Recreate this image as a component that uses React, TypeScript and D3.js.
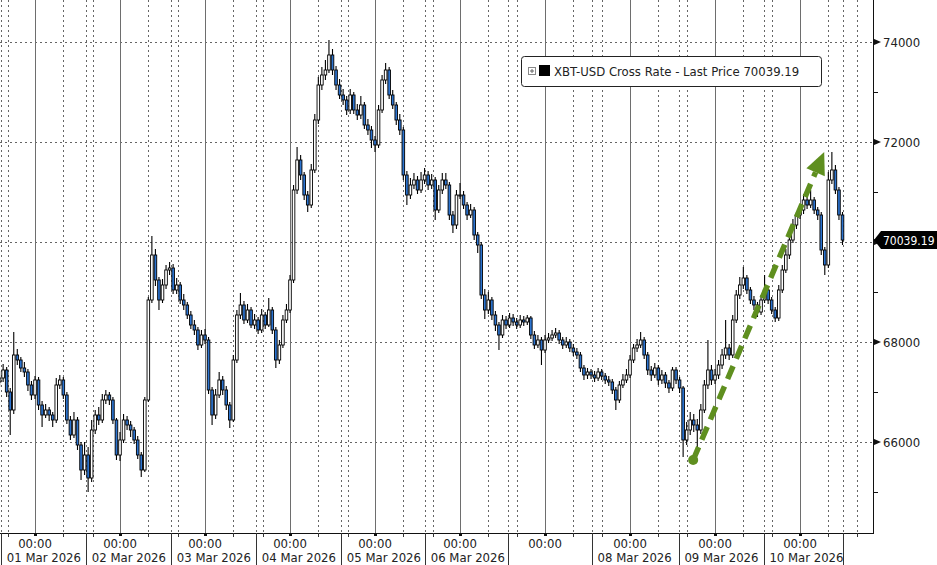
import React from 'react';
import * as d3 from 'd3';

const W = 937;
const H = 565;
const PLOT_R = 873;
const PLOT_B = 533;

const seriesLabel = 'XBT-USD Cross Rate - Last Price';
const lastPrice = 70039.19;

// hourly candles, first one at 28 Feb 2026 14:00 UTC
const firstBar = Date.UTC(2026, 1, 28, 14);
const firstOpen = 67200;

const closes = [
  67280, 67440, 67000, 66640, 67740, 67640, 67480, 67400, 67140, 66940,
  67240, 66740, 66540, 66640, 66540, 66440, 67140, 67240, 66940, 66440, 66140, 66440, 65940, 65440, 65740, 65280, 66240, 66540, 66440, 66840, 66940, 66840, 66440, 65740,
  66040, 66440, 66340, 66240, 66040, 65740, 65440, 66840, 68840, 69740, 69240, 68840, 69140, 69440, 69480, 69040, 69140, 68840, 68740, 68540, 68340, 68240, 67940, 68140,
  68040, 67040, 66540, 66940, 67240, 67040, 66740, 66440, 67640, 68540, 68740, 68440, 68640, 68340, 68440, 68240, 68540, 68340, 68640, 68240, 67640, 67940, 68440, 68640,
  69240, 71040, 71640, 71340, 70940, 70740, 71440, 72440, 73140, 73340, 73440, 73740, 73440, 73140, 72940, 72840, 72640, 72940, 72640, 72540, 72740, 72340, 72240, 72040,
  71940, 72640, 73240, 73440, 72940, 72740, 72440, 72240, 71340, 70940, 71140, 71240, 71040, 71240, 71340, 71140, 71240, 70640, 71040, 71240, 71140, 70540, 70340, 70940,
  70940, 70740, 70540, 70640, 70140, 69940, 68940, 68640, 68840, 68540, 68340, 68140, 68440, 68340, 68480, 68400, 68340, 68440, 68400, 68480, 68140, 67940, 68040, 67840,
  68040, 68080, 68140, 68180, 68040, 67940, 68000, 67880, 67800, 67740, 67480, 67340, 67400, 67340, 67280, 67400, 67320, 67240, 67200, 67040, 66840, 67140, 67240, 67340,
  67640, 67880, 67940, 68040, 67740, 67440, 67340, 67480, 67240, 67340, 67180, 67080, 67440, 67240, 67080, 66040, 66240, 66440, 66340, 66240, 66640, 67140, 67440, 67240,
  67340, 67540, 67740, 67880, 67740, 68440, 68940, 69140, 69280, 69040, 68840, 68740, 68600, 68840, 69040, 68840, 68640, 68480, 69040, 69440, 69740, 70040, 70340, 70540,
  70640, 70840, 70740, 70840, 70640, 70540, 69840, 69540, 71240, 71440, 71040, 70540, 70039.19,
];

const highs = [
  67420, 67560, 67500, 67080, 68200, 67860, 67700, 67600, 67460, 67220,
  67320, 67300, 66820, 66760, 66700, 66600, 67280, 67340, 67300, 67000, 66520, 66600, 66500, 66000, 66000, 65900, 66440, 66640, 66700, 66960, 67040, 67000, 66900, 66480,
  66200, 66560, 66520, 66420, 66300, 66120, 65800, 66900, 68900, 70120, 69860, 69300, 69260, 69540, 69600, 69560, 69280, 69200, 68960, 68800, 68620, 68440, 68300, 68240,
  68260, 68100, 67100, 67060, 67400, 67320, 67120, 66800, 67740, 68640, 68980, 68820, 68760, 68700, 68560, 68500, 68660, 68600, 68880, 68700, 68300, 68040, 68540, 68760,
  69340, 71140, 71900, 71740, 71400, 71020, 71560, 72560, 73300, 73500, 73640, 74040, 73860, 73520, 73260, 73060, 72920, 73060, 73000, 72760, 72920, 72800, 72460, 72320,
  72120, 72740, 73340, 73580, 73500, 73040, 72800, 72560, 72300, 71420, 71280, 71380, 71320, 71400, 71480, 71420, 71360, 71300, 71140, 71380, 71380, 71200, 70620, 71040,
  71180, 71020, 70800, 70760, 70700, 70200, 70000, 69060, 69000, 68900, 68620, 68400, 68540, 68520, 68580, 68560, 68480, 68540, 68520, 68540, 68520, 68220, 68140, 68100,
  68140, 68180, 68240, 68280, 68240, 68100, 68100, 68060, 67960, 67880, 67800, 67540, 67480, 67460, 67420, 67480, 67460, 67380, 67320, 67260, 67100, 67220, 67360, 67460,
  67740, 67960, 68060, 68200, 68100, 67800, 67520, 67580, 67540, 67440, 67400, 67240, 67500, 67500, 67300, 67120, 66400, 66600, 66560, 66460, 66760, 67240, 68040, 67540,
  67460, 67640, 67860, 68440, 67960, 68540, 69040, 69300, 69500, 69340, 69100, 68920, 68800, 68940, 69340, 69100, 68900, 68700, 69140, 69540, 69860, 70160, 70460, 70600,
  70760, 70960, 70920, 71040, 70900, 70700, 70600, 69900, 71400, 71800, 71540, 71100, 70600,
];

const lows = [
  67100, 67200, 66900, 66140, 66560, 67540, 67400, 67300, 67020, 66840,
  66860, 66640, 66300, 66480, 66420, 66300, 66380, 67060, 66860, 66360, 66040, 66080, 65840, 65240, 65340, 65000, 65200, 66160, 66340, 66380, 66760, 66740, 66360, 65640,
  65620, 65980, 66240, 66100, 65960, 65660, 65300, 65400, 66800, 68780, 69120, 68640, 68780, 69060, 69340, 68960, 68960, 68760, 68640, 68460, 68260, 68140, 67840, 67880,
  67960, 66960, 66340, 66460, 66880, 66940, 66640, 66280, 66400, 67580, 68460, 68360, 68380, 68280, 68260, 68160, 68180, 68260, 68300, 68160, 67480, 67560, 67880, 68380,
  68580, 69180, 70960, 71240, 70840, 70600, 70680, 71380, 72360, 73040, 73240, 73380, 73340, 73040, 72860, 72740, 72540, 72560, 72560, 72440, 72460, 72260, 72140, 71880,
  71800, 71880, 72580, 73160, 72860, 72660, 72340, 72140, 71240, 70740, 70860, 71060, 70960, 70980, 71160, 71040, 71060, 70440, 70580, 70960, 71060, 70440, 70180, 70260,
  70860, 70660, 70440, 70480, 70040, 69780, 68860, 68460, 68560, 68440, 68220, 67840, 68080, 68260, 68280, 68320, 68260, 68280, 68320, 68340, 68060, 67860, 67880, 67540,
  67780, 67980, 68020, 68080, 67960, 67860, 67880, 67800, 67720, 67660, 67400, 67240, 67260, 67260, 67200, 67220, 67240, 67160, 67120, 66960, 66640, 66780, 67080, 67180,
  67280, 67580, 67800, 67880, 67660, 67340, 67220, 67280, 67140, 67160, 67080, 66980, 67020, 67160, 66980, 65700, 65940, 66140, 66200, 65900, 66160, 66580, 67060, 67140,
  67160, 67260, 67460, 67660, 67640, 67680, 68380, 68860, 69060, 68960, 68760, 68640, 68500, 68540, 68780, 68760, 68560, 68400, 68420, 68980, 69380, 69660, 69980, 70260,
  70460, 70560, 70660, 70680, 70560, 70440, 69740, 69340, 69480, 71160, 70960, 70440, 69940,
];

const majorTicks = [66000, 68000, 70000, 72000, 74000];
const minorTicks = [65000, 67000, 69000, 71000, 73000];

// calendar days shown; date label for each day sits in the band after the previous day's separator
const dayStarts = [
  Date.UTC(2026, 1, 28), Date.UTC(2026, 2, 1), Date.UTC(2026, 2, 2), Date.UTC(2026, 2, 3),
  Date.UTC(2026, 2, 4), Date.UTC(2026, 2, 5), Date.UTC(2026, 2, 6), Date.UTC(2026, 2, 7),
  Date.UTC(2026, 2, 8), Date.UTC(2026, 2, 9), Date.UTC(2026, 2, 10),
];
const dateLabels = ['', '01 Mar 2026', '02 Mar 2026', '03 Mar 2026', '04 Mar 2026', '05 Mar 2026',
  '06 Mar 2026', '', '08 Mar 2026', '09 Mar 2026', '10 Mar 2026'];
// session hours (UTC) of dotted lines; the middle one separates the date bands
const sessionHours = [
  [8, 14.5, 16.5], [8, 14.5, 16.5], [8, 14.5, 16.5], [8, 14.5, 16.5], [8, 14.5, 16.5], [8, 14.2, 16.3],
  [8, 13.6, 16], [8, 13.3, 16], [8, 13.8, 16], [8, 13.8, 16], [8, 12, 16],
];

// trend arrow annotation (time, price)
const trendFrom = { t: Date.UTC(2026, 2, 8, 17, 50), p: 65640 };
const trendTo = { t: Date.UTC(2026, 2, 10, 6, 50), p: 71800 };

const FONT = "'DejaVu Sans Condensed', 'DejaVu Sans', sans-serif";
const BLUE = '#2c74d0';
const GREEN = '#5f8f1f';

export default function App() {
  const x = d3.scaleUtc()
    .domain([Date.UTC(2026, 2, 1), Date.UTC(2026, 2, 11)])
    .range([35, 885]);
  const y = d3.scaleLinear().domain([64000, 74000]).range([542, 42]);

  const bars = closes.map((c, i) => {
    const o = i === 0 ? firstOpen : closes[i - 1];
    return { t: firstBar + i * 3600e3, o, c, h: highs[i], l: lows[i] };
  });

  const gridLines: { x: number; kind: string }[] = [];
  dayStarts.forEach((d, i) => {
    gridLines.push({ x: x(d), kind: 'day' });
    sessionHours[i].forEach((hr, j) => {
      gridLines.push({ x: x(d + hr * 3600e3), kind: j === 1 ? 'sep' : 'dot' });
    });
  });

  const bw = 2.6;

  // arrow geometry
  const ax0 = x(trendFrom.t), ay0 = y(trendFrom.p);
  const ax1 = x(trendTo.t), ay1 = y(trendTo.p);
  const len = Math.hypot(ax1 - ax0, ay1 - ay0);
  const ux = (ax1 - ax0) / len, uy = (ay1 - ay0) / len;
  const headL = 22, headW = 10;
  const bx = ax1 - ux * headL, by = ay1 - uy * headL;
  const head = [
    [ax1, ay1],
    [bx - uy * headW, by + ux * headW],
    [bx + uy * headW, by - ux * headW],
  ].map(p => p.join(',')).join(' ');

  const yl = y(lastPrice);

  return (
    <svg width={W} height={H} style={{ position: 'fixed', left: 0, top: 0, background: '#fff' }}
      fontFamily={FONT} fontStretch="condensed">
      <rect x={0} y={0} width={W} height={H} fill="#fff" />
      <defs>
        <clipPath id="plot"><rect x={0} y={0} width={PLOT_R} height={PLOT_B} /></clipPath>
      </defs>

      {/* grid */}
      <g clipPath="url(#plot)" shapeRendering="crispEdges">
        {majorTicks.map(v => (
          <line key={v} x1={0} x2={PLOT_R} y1={Math.round(y(v)) + 0.5} y2={Math.round(y(v)) + 0.5}
            stroke="#666" strokeDasharray="2,3" />
        ))}
        {gridLines.map((g, i) => (
          <line key={i} x1={Math.round(g.x) + 0.5} x2={Math.round(g.x) + 0.5} y1={0} y2={PLOT_B}
            stroke={g.kind === 'day' ? '#6e6e6e' : '#666'}
            strokeDasharray={g.kind === 'day' ? undefined : '2,3'} />
        ))}
      </g>

      {/* candles */}
      <g clipPath="url(#plot)">
        {bars.map((b, i) => {
          const cx = x(b.t);
          const up = b.c >= b.o;
          const top = y(Math.max(b.o, b.c));
          const bot = y(Math.min(b.o, b.c));
          return (
            <g key={i}>
              <line x1={cx} x2={cx} y1={y(b.h)} y2={y(b.l)} stroke="#000" strokeWidth={1.1} />
              <rect x={cx - bw / 2} y={top} width={bw} height={Math.max(1, bot - top)}
                fill={up ? '#fff' : BLUE} stroke="#000" strokeWidth={0.9} />
            </g>
          );
        })}
      </g>

      {/* trend arrow */}
      <line x1={ax0} y1={ay0} x2={bx} y2={by} stroke={GREEN} strokeWidth={5.5} strokeDasharray="14,8" />
      <circle cx={ax0} cy={ay0} r={5} fill={GREEN} />
      <polygon points={head} fill={GREEN} />

      {/* axes */}
      <g shapeRendering="crispEdges">
        <line x1={PLOT_R + 0.5} x2={PLOT_R + 0.5} y1={0} y2={PLOT_B + 1} stroke="#111" />
        <line x1={0} x2={PLOT_R + 1} y1={PLOT_B + 0.5} y2={PLOT_B + 0.5} stroke="#111" />
        {gridLines.filter(g => g.x < PLOT_R).map((g, i) => (
          g.kind === 'sep'
            ? <line key={i} x1={Math.round(g.x) + 0.5} x2={Math.round(g.x) + 0.5} y1={PLOT_B} y2={H} stroke="#333" />
            : g.kind === 'dot'
              ? <line key={i} x1={Math.round(g.x) + 0.5} x2={Math.round(g.x) + 0.5} y1={PLOT_B} y2={PLOT_B + 4} stroke="#333" />
              : <rect key={i} x={Math.round(g.x) - 1} y={PLOT_B} width={3} height={3} fill="#111" />
        ))}
        {minorTicks.map(v => (
          <line key={v} x1={PLOT_R} x2={PLOT_R + 5} y1={Math.round(y(v)) + 0.5} y2={Math.round(y(v)) + 0.5} stroke="#111" />
        ))}
      </g>
      {majorTicks.map(v => (
        <g key={v}>
          <polygon points={`${PLOT_R},${y(v) - 3.5} ${PLOT_R + 8},${y(v)} ${PLOT_R},${y(v) + 3.5}`} fill="#111" />
          {Math.abs(y(v) - yl) > 14 && (
            <text x={883} y={y(v) + 5} fontSize={13} fill="#222">{v}</text>
          )}
        </g>
      ))}

      {/* x labels */}
      {dayStarts.map((d, i) => (
        x(d) > 0 && x(d) < PLOT_R ? (
          <text key={'t' + i} x={x(d)} y={548} fontSize={13} fill="#222" textAnchor="middle">00:00</text>
        ) : null
      ))}
      {dateLabels.map((lab, i) => {
        if (!lab) return null;
        const sx = x(dayStarts[i - 1] + sessionHours[i - 1][1] * 3600e3);
        return <text key={'d' + i} x={Math.max(0, sx) + 5.5} y={562} fontSize={13} fill="#222">{lab}</text>;
      })}

      {/* last price tag (covers the 70000 tick label) */}
      <polygon points={`874,${yl} 881,${yl - 9} ${W},${yl - 9} ${W},${yl + 9} 881,${yl + 9}`} fill="#000" />
      <text x={883} y={yl + 4.5} fontSize={12} fill="#fff">{lastPrice.toFixed(2)}</text>

      {/* legend */}
      <rect x={521.5} y={56.5} width={300} height={30} rx={3} fill="#fff" stroke="#222" />
      <rect x={528.5} y={67.5} width={7} height={7} fill="#fff" stroke="#888" />
      <line x1={530} x2={534} y1={71} y2={71} stroke="#666" />
      <line x1={532} x2={532} y1={69} y2={73} stroke="#666" />
      <rect x={539} y={65} width={11} height={11} fill="#000" />
      <text x={554} y={76} fontSize={13} fill="#222">{`${seriesLabel} ${lastPrice.toFixed(2)}`}</text>
    </svg>
  );
}
